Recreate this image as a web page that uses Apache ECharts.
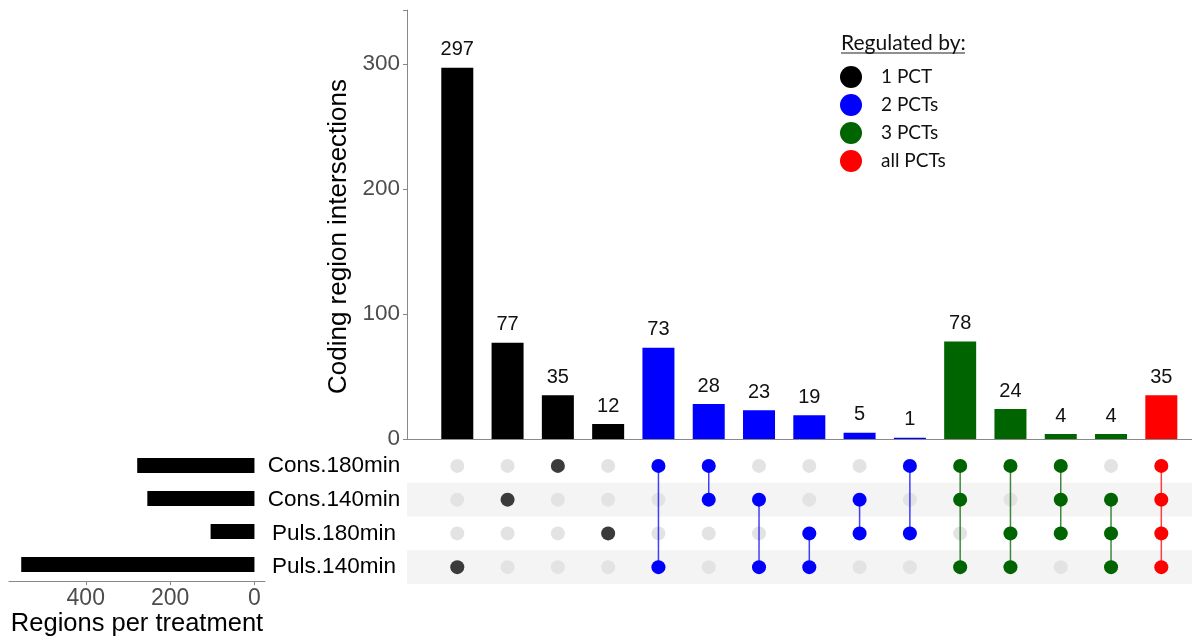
<!DOCTYPE html>
<html><head><meta charset="utf-8">
<script src="https://cdn.jsdelivr.net/npm/echarts@6/dist/echarts.min.js"></script>
<style>html,body{margin:0;padding:0;background:#fff}#c{width:1192px;height:638px}</style>
</head><body><div id="c"></div><script>
const sets = ['Cons.180min','Cons.140min','Puls.180min','Puls.140min'];
const setSizes = [278, 254, 104, 553];
const counts = [297,77,35,12,73,28,23,19,5,1,78,24,4,4,35];
const members = [
 ['Puls.140min'], ['Cons.140min'], ['Cons.180min'], ['Puls.180min'],
 ['Cons.180min','Puls.140min'], ['Cons.180min','Cons.140min'], ['Cons.140min','Puls.140min'],
 ['Puls.180min','Puls.140min'], ['Cons.140min','Puls.180min'], ['Cons.180min','Puls.180min'],
 ['Cons.180min','Cons.140min','Puls.140min'], ['Cons.180min','Puls.180min','Puls.140min'],
 ['Cons.180min','Cons.140min','Puls.180min'], ['Cons.140min','Puls.180min','Puls.140min'],
 ['Cons.180min','Cons.140min','Puls.180min','Puls.140min']
];
const groupNames = ['1 PCT','2 PCTs','3 PCTs','all PCTs'];
const barColors = ['#000000','#0000ff','#006400','#ff0000'];
const dotColors = ['#3b3b3b','#0000ff','#006400','#ff0000'];
const topTicks = [0,100,200,300];
const leftTicks = [0,200,400];

const FONT = '"Liberation Sans", Arial, sans-serif';
const LFONT = 'Lato, "Open Sans", sans-serif';
const XMAX = 15.61;
const groupOf = m => m.length - 1;

const barSeries = groupNames.map((g, gi) => ({
  name: g, type: 'bar', xAxisIndex: 0, yAxisIndex: 0, stack: 'all', barWidth: 32,
  itemStyle: { color: barColors[gi] },
  label: { show: true, position: 'top', distance: 8, fontSize: 20, color: '#111', fontFamily: FONT },
  data: counts.map((c, i) => groupOf(members[i]) === gi ? [i + 1, c] : null).filter(d => d)
}));

const greyDots = [];
counts.forEach((c, i) => sets.forEach(s => greyDots.push([i + 1, s])));

const dotSeries = groupNames.map((g, gi) => ({
  name: g + ' dots', type: 'scatter', xAxisIndex: 1, yAxisIndex: 1, symbolSize: 14, z: 4,
  itemStyle: { color: dotColors[gi], opacity: 1 },
  data: members.flatMap((m, i) => groupOf(m) === gi ? m.map(s => [i + 1, s]) : [])
}));

const linkData = members.filter(m => m.length > 1).map(m => {
  const i = members.indexOf(m);
  const idx = m.map(s => sets.indexOf(s));
  return [i + 1, Math.min(...idx), Math.max(...idx), groupOf(m)];
});

const chart = echarts.init(document.getElementById('c'), null, { renderer: 'canvas' });
chart.setOption({
  animation: false,
  textStyle: { fontFamily: FONT },
  title: { text: 'Regulated by:', left: 836, top: 28,
    textStyle: { fontFamily: LFONT, fontSize: 21, fontWeight: 'normal', color: '#111' } },
  graphic: [{ type: 'line', shape: { x1: 841, y1: 53, x2: 965, y2: 53 }, style: { stroke: '#222', lineWidth: 1.2 } }],
  legend: {
    data: groupNames, orient: 'vertical', left: 835, top: 61, icon: 'circle',
    itemWidth: 22, itemHeight: 22, itemGap: 6, selectedMode: false,
    textStyle: { fontFamily: LFONT, fontSize: 19, color: '#111', padding: [0, 0, 0, 14] }
  },
  grid: [
    { left: 407, top: 10, width: 785, height: 429 },
    { left: 407, top: 449, width: 785, height: 135 },
    { left: 9, top: 449, width: 256, height: 135 }
  ],
  xAxis: [
    { gridIndex: 0, type: 'value', min: 0, max: XMAX, axisLine: { show: true, lineStyle: { color: '#888', width: 1 } },
      axisTick: { show: false }, axisLabel: { show: false }, splitLine: { show: false } },
    { gridIndex: 1, type: 'value', min: 0, max: XMAX, show: false, splitLine: { show: false } },
    { gridIndex: 2, type: 'value', inverse: true, min: -25, max: 582,
      axisLine: { show: true, lineStyle: { color: '#888', width: 1 } },
      axisTick: { show: true, length: 4, customValues: leftTicks, lineStyle: { color: '#888' } },
      axisLabel: { show: true, customValues: leftTicks, fontSize: 23, color: '#4d4d4d', margin: 6 },
      splitLine: { show: false },
      name: 'Regions per treatment', nameLocation: 'middle', nameGap: 28,
      nameTextStyle: { fontSize: 25.5, color: '#000' } }
  ],
  yAxis: [
    { gridIndex: 0, type: 'value', min: 0, max: 343.2, interval: 100,
      axisLine: { show: true, lineStyle: { color: '#888', width: 1 } },
      axisTick: { show: true, length: 4, lineStyle: { color: '#888' } },
      axisLabel: { fontSize: 22.5, color: '#4d4d4d', margin: 7, customValues: topTicks },
      splitLine: { show: false },
      name: 'Coding region intersections', nameLocation: 'middle', nameGap: 54,
      nameTextStyle: { fontSize: 26, color: '#000', padding: [0, 24, 0, 0] } },
    { gridIndex: 1, type: 'category', data: sets, inverse: true,
      axisLine: { show: false }, axisTick: { show: false },
      axisLabel: { fontSize: 22.5, color: '#000', align: 'center', margin: 73 },
      splitArea: { show: true, areaStyle: { color: ['rgba(0,0,0,0)', '#f4f4f4'] } } },
    { gridIndex: 2, type: 'category', data: sets, inverse: true, show: false }
  ],
  series: [
    ...barSeries,
    { name: 'grey', type: 'scatter', xAxisIndex: 1, yAxisIndex: 1, symbolSize: 14, z: 2,
      itemStyle: { color: '#e3e3e3', opacity: 1 }, data: greyDots, silent: true },
    { name: 'links', type: 'custom', xAxisIndex: 1, yAxisIndex: 1, z: 3,
      encode: { x: 0, y: [1, 2] },
      renderItem: (params, api) => {
        const p1 = api.coord([api.value(0), api.value(1)]);
        const p2 = api.coord([api.value(0), api.value(2)]);
        return { type: 'line', shape: { x1: p1[0], y1: p1[1], x2: p2[0], y2: p2[1] },
          style: { stroke: dotColors[api.value(3)], lineWidth: 1.5, opacity: 0.75 } };
      },
      data: linkData },
    ...dotSeries,
    { name: 'sizes', type: 'bar', xAxisIndex: 2, yAxisIndex: 2, barWidth: 15,
      itemStyle: { color: '#000' }, data: setSizes }
  ]
});
</script></body></html>
